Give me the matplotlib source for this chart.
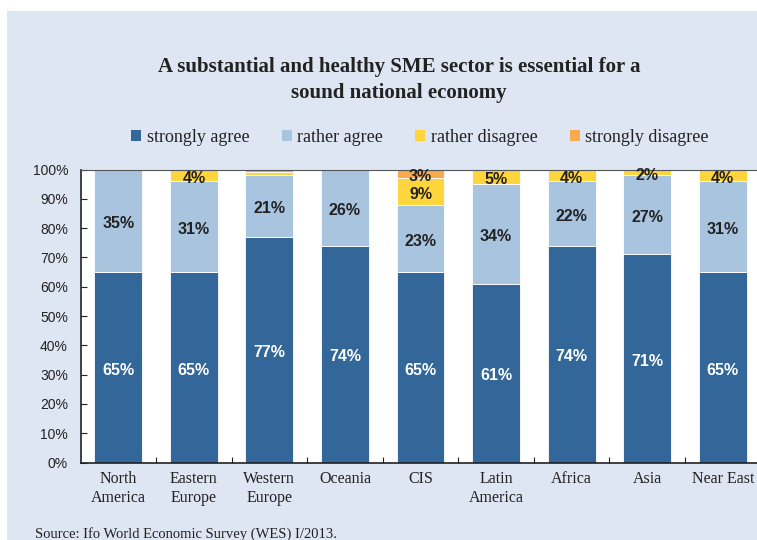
import matplotlib
matplotlib.use("Agg")
import matplotlib.pyplot as plt
from matplotlib.patches import Rectangle, Patch
import numpy as np

categories = ["North\nAmerica", "Eastern\nEurope", "Western\nEurope", "Oceania", "CIS",
              "Latin\nAmerica", "Africa", "Asia", "Near East"]
strongly_agree = [65, 65, 77, 74, 65, 61, 74, 71, 65]
rather_agree = [35, 31, 21, 26, 23, 34, 22, 27, 31]
rather_disagree = [0, 4, 1, 0, 9, 5, 4, 2, 4]
strongly_disagree = [0, 0, 1, 0, 3, 0, 0, 0, 0]
series_names = ["strongly agree", "rather agree", "rather disagree", "strongly disagree"]
yticks = [0, 10, 20, 30, 40, 50, 60, 70, 80, 90, 100]

colors = ["#336699", "#A9C4DF", "#FFD53D", "#F9A94E"]
label_colors = ["white", "#222222", "#222222", "#222222"]
bg = "#DFE6F3"

W, H = 757, 540
fig = plt.figure(figsize=(W / 100, H / 100), dpi=100, facecolor="white")
fig.patches.append(Rectangle((7 / W, 0), 1 - 7 / W, (H - 11) / H, transform=fig.transFigure,
                             facecolor=bg, edgecolor="none", zorder=-10))

ax = fig.add_axes([80.5 / W, (H - 462.5) / H, 680 / W, 293 / H])
ax.set_facecolor("white")
ax.set_zorder(1)

x = np.arange(len(categories))
series = [strongly_agree, rather_agree, rather_disagree, strongly_disagree]
bottom = np.zeros(len(categories))
for vals, col, lc in zip(series, colors, label_colors):
    vals = np.array(vals, dtype=float)
    ax.bar(x, vals, bottom=bottom, width=0.635, color=col, edgecolor="white",
           linewidth=0.6, zorder=2)
    for xi, b, v in zip(x, bottom, vals):
        if v >= 2:
            ax.annotate(f"{int(v)}%", (xi, b + v / 2), xytext=(0, -2), textcoords="offset points",
                        ha="center", va="center", fontsize=11.5, fontweight="bold", color=lc,
                        family="Liberation Sans", zorder=3)
    bottom += vals

ax.set_xlim(-0.5, len(categories) - 0.5)
ax.set_ylim(0, 100)
ax.set_yticks(yticks)
ax.set_yticklabels([f"{t}%" for t in yticks], family="Liberation Sans", fontsize=10, color="#222222")
ax.tick_params(axis="y", direction="in", length=4, width=0.8, color="#222222", pad=9)
ax.set_xticks(x)
ax.set_xticklabels(categories, family="Liberation Serif", fontsize=11.5, color="#222222",
                   linespacing=1.3)
ax.tick_params(axis="x", which="major", length=0, pad=6)
ax.set_xticks(np.arange(0.5, len(categories) - 0.5, 1), minor=True)
ax.tick_params(axis="x", which="minor", direction="in", length=4, width=0.8, color="#222222")

for s in ["left", "bottom"]:
    ax.spines[s].set_color("#222222")
    ax.spines[s].set_linewidth(1.2)
ax.spines["top"].set_color("#555555")
ax.spines["top"].set_linewidth(0.8)
ax.spines["right"].set_visible(False)

fig.text(399 / W, 1 - 80 / H, "A substantial and healthy SME sector is essential for a\nsound national economy",
         ha="center", va="center", family="Liberation Serif", fontsize=15, fontweight="bold",
         color="#222222", linespacing=1.4)

handles = [Patch(facecolor=c, edgecolor="none") for c in colors]
fig.legend(handles, series_names, loc="center", bbox_to_anchor=(420 / W, 1 - 137 / H),
           ncol=4, frameon=False, prop={"family": "Liberation Serif", "size": 13},
           handlelength=0.55, handleheight=0.55, handletextpad=0.3, columnspacing=1.8,
           labelcolor="#222222")

fig.text(35 / W, 1 - 534 / H, "Source: Ifo World Economic Survey (WES) I/2013.",
         ha="left", va="center", family="Liberation Serif", fontsize=10.5, color="#222222")

fig.savefig("out.png", dpi=100, facecolor="white")
